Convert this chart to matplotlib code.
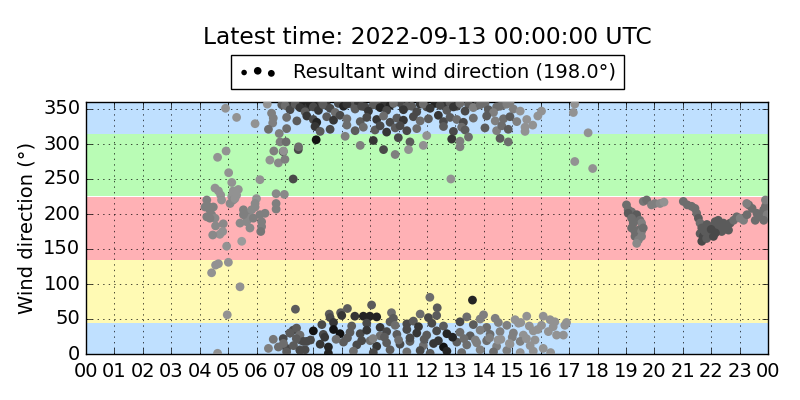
import numpy as np
import matplotlib
matplotlib.use('Agg')
import matplotlib.pyplot as plt

# Sector bands (lower, upper, colour)
band_low = [0, 45, 135, 225, 315]
band_high = [45, 135, 225, 315, 360]
band_colors = ['#bfe0ff', '#fffab4', '#ffb1b5', '#b9fcb5', '#bfe0ff']

title_text = 'Latest time: 2022-09-13 00:00:00 UTC'
legend_text = u'Resultant wind direction (198.0\u00b0)'

# Early morning, light winds, scattered directions
dawn_h = [4.91, 5.30, 5.95, 6.38, 4.93, 4.63, 5.02, 5.13, 6.12, 4.54, 4.66, 4.74, 4.77, 5.18, 5.36, 5.30,
          5.13, 5.18, 5.07, 5.24, 6.00, 5.95, 6.69, 6.98, 6.69, 6.69, 4.25, 4.19, 4.30, 4.36, 4.25, 4.42,
          4.48, 4.54, 4.36, 4.56, 4.83, 4.81, 4.71, 4.46, 4.95, 5.48, 5.54, 5.59, 5.71, 5.83, 5.95, 5.77,
          5.65, 5.42, 5.54, 5.89, 6.12, 6.30, 6.18, 6.18, 6.15, 5.77, 4.66, 4.56, 4.42, 5.01, 5.42, 4.97,
          7.37, 4.63, 6.53, 6.59, 6.57, 6.42, 6.80, 6.83, 7.04, 6.61, 6.94, 6.47, 6.77, 7.00, 7.29, 7.47,
          6.59, 6.94, 7.18, 7.29, 7.41, 7.53, 6.77, 6.42, 7.06, 7.53, 7.71, 7.77]
dawn_dir = [351, 338, 329, 357, 290, 281, 259, 245, 249, 237, 233, 227, 220, 233, 235, 227,
            225, 220, 215, 222, 222, 215, 229, 228, 215, 207, 220, 210, 211, 206, 196, 199,
            210, 194, 194, 183, 186, 175, 171, 170, 154, 161, 206, 199, 201, 206, 210, 194,
            189, 187, 199, 194, 199, 201, 189, 182, 175, 180, 129, 127, 116, 131, 96, 56,
            64, 1, 344, 337, 330, 321, 315, 303, 303, 290, 289, 277, 273, 278, 250, 292,
            21, 22, 30, 34, 37, 20, 10, 8, 8, 6, 6, 18]
dawn_spd = [2, 2, 2, 2, 2, 2, 2, 2, 2, 2, 2, 2, 2, 2, 2, 2,
            2, 2.5, 2.5, 2, 2, 2.5, 2.5, 2.5, 3, 3, 3, 3, 3, 3, 3, 3,
            3, 2.5, 3, 2.5, 2.5, 2, 2, 2.5, 2, 1.5, 3, 3, 3, 2.5, 2.5, 2.5,
            2.5, 2.5, 3, 3, 3, 3, 3, 3, 3.5, 2.5, 2, 2, 2, 2, 2, 2,
            5, 2, 3, 3, 3, 4, 3, 3, 4, 3, 6, 2, 2.5, 3, 6, 6,
            3.5, 6, 6, 6, 5, 5, 4, 3, 6, 5, 6, 6]

# Daytime, northerly winds (300-360 deg)
north_h = [6.89, 7.12, 7.48, 7.65, 7.83, 8.12, 8.30, 8.47, 8.88, 9.06, 9.35, 9.59, 9.82, 10.11, 10.47,
           10.70, 11.05, 11.29, 11.76, 11.99, 12.28, 12.58, 12.81, 13.05, 13.46, 13.75, 14.04, 14.45,
           14.69, 14.92,
           7.01, 7.18, 7.36, 7.53, 7.71, 7.89, 8.00, 8.18, 8.35, 8.59, 8.77, 9.18, 9.47, 9.70, 9.94,
           10.23, 10.35, 10.58, 10.82, 11.17, 11.46, 11.64, 11.87, 12.11, 12.46, 12.70, 12.93, 13.16,
           13.34, 13.63, 13.87, 14.16, 14.34, 14.57, 14.81, 15.04, 15.28,
           7.06, 7.42, 7.77, 8.00, 8.12, 8.47, 8.71, 8.94, 9.18, 9.65, 9.88, 10.23, 10.47, 10.70, 10.94,
           11.17, 11.52, 11.76, 12.05, 12.40, 12.58, 12.81, 13.05, 13.28, 13.63, 14.10, 14.40, 14.69,
           14.92, 15.16, 15.51,
           7.06, 8.06, 8.24, 8.59, 9.18, 9.47, 9.76, 10.17, 10.35, 10.58, 10.88, 11.05, 11.29, 11.64,
           12.58, 12.93, 13.22, 13.34, 14.04, 14.45, 14.63, 14.86, 15.45,
           8.10, 9.12, 10.11, 10.99, 11.40, 11.99, 12.87, 13.16, 13.46, 14.57, 14.86,
           6.95, 7.48, 9.65, 10.47, 10.88, 11.35, 11.87, 13.16, 12.84, 16.03,
           17.15, 17.20, 17.67, 17.20, 17.83, 15.72, 15.45, 15.90]
north_dir = [356, 359, 354, 358, 353, 357, 359, 355, 358, 354, 357, 359, 353, 356, 358,
             355, 359, 354, 357, 353, 358, 356, 359, 354, 357, 355, 358, 353,
             356, 359,
             355, 349, 357, 352, 346, 358, 353, 348, 356, 351, 345, 357, 350, 354, 347,
             356, 352, 348, 358, 349, 354, 346, 357, 351, 355, 348, 353, 358,
             347, 352, 356, 349, 345, 354, 357, 350, 347,
             338, 333, 340, 335, 331, 339, 334, 341, 336, 332, 338, 335, 340, 331, 337,
             334, 339, 333, 336, 341, 332, 338, 335, 331, 337, 340, 333, 336,
             339, 332, 335,
             322, 325, 318, 321, 327, 319, 324, 320, 326, 317, 323, 326, 319, 322,
             325, 318, 324, 320, 323, 319, 326, 321, 324,
             306, 311, 305, 309, 303, 312, 307, 304, 310, 308, 303,
             290, 296, 298, 292, 285, 292, 298, 296, 250, 347,
             345, 357, 316, 275, 265, 327, 318, 340]
north_spd = [5, 7, 6, 8, 7, 8, 6, 7, 6, 8, 5, 7, 6, 5, 7,
             8, 6, 5, 7, 6, 8, 7, 5, 6, 5, 6, 4, 4,
             3, 3,
             4, 6, 5, 7, 5, 8, 6, 7, 5, 6, 4, 7, 5, 6, 7,
             5, 8, 6, 4, 7, 5, 6, 4, 7, 6, 5, 7, 4,
             6, 3, 4, 5, 3, 4, 3, 3, 2,
             4, 5, 7, 6, 8, 5, 7, 6, 4, 5, 6, 7, 4, 6, 5,
             7, 6, 4, 5, 7, 6, 5, 4, 6, 4, 5, 3, 4,
             5, 3, 2,
             4, 7, 5, 6, 4, 5, 4, 5, 6, 7, 5, 6, 6, 4,
             5, 6, 4, 5, 5, 3, 4, 5, 2,
             9, 3, 7, 6, 5, 2, 7, 3, 4, 5, 4,
             2, 4, 3, 6, 3, 2, 2, 3, 2, 2,
             2, 2, 2, 2, 2, 2, 2, 2]

# Daytime, winds just east of north (0-80 deg)
east_h = [9.20, 10.05, 12.10, 12.36, 13.60, 8.96, 8.56, 10.75, 9.46, 9.76, 9.99, 10.23,
          8.59, 9.00, 10.82, 11.76, 12.05, 12.34, 13.40, 13.87, 13.99, 15.51, 14.40, 15.10,
          8.30, 8.71, 9.35, 9.88, 10.35, 10.70, 10.88, 11.29, 11.52, 11.70, 12.17, 12.58, 13.16,
          13.63, 14.10, 14.51, 14.81, 15.22,
          7.18, 7.53, 8.00, 8.35, 8.71, 8.94, 9.29, 9.65, 9.88, 10.35, 10.58, 10.94, 11.29, 11.64,
          11.99, 12.34, 12.70, 13.16, 13.52, 13.87, 14.22, 14.57, 15.04, 15.39, 15.74,
          6.95, 7.30, 7.65, 8.24, 8.53, 9.06, 9.53, 10.00, 10.23, 10.58, 11.05, 11.40, 11.87, 12.23,
          12.58, 13.05, 13.40, 13.75, 14.10, 14.45, 14.92, 15.28, 15.63,
          7.06, 7.53, 8.53, 9.41, 10.11, 10.70, 11.29, 11.76, 12.11, 12.70, 13.22, 13.87, 14.34,
          14.81, 15.28, 15.74,
          7.4, 7.9, 8.4, 8.8, 9.2, 9.7, 10.1, 10.5, 11.0, 11.4, 11.9, 12.4, 12.9, 13.3, 13.7, 14.2,
          14.6, 15.0, 15.5,
          16.09, 16.03, 16.33, 16.50, 16.44, 16.27, 16.56, 16.85, 16.91, 16.80, 16.09, 16.35,
          15.9, 15.6, 15.8, 14.9, 15.3, 14.5]
east_dir = [65, 70, 81, 66, 77, 59, 57, 59, 54, 54, 54, 53,
            52, 55, 51, 57, 52, 55, 53, 50, 56, 54, 51, 49,
            42, 45, 40, 44, 38, 46, 41, 43, 47, 39, 44, 40, 46,
            42, 38, 45, 41, 44,
            30, 27, 33, 28, 35, 29, 31, 29, 34, 26, 32, 28, 35, 30,
            27, 33, 29, 31, 26, 34, 28, 32, 30, 27, 33,
            15, 12, 18, 14, 10, 17, 13, 19, 11, 16, 14, 18, 12, 15,
            10, 17, 13, 16, 19, 11, 14, 18, 12,
            3, 5, 1, 4, 2, 6, 3, 5, 1, 4, 2, 6, 3,
            5, 2, 4,
            22, 20, 24, 21, 23, 19, 22, 24, 20, 23, 21, 19, 24, 22, 20, 23,
            21, 24, 22,
            54, 41, 49, 46, 39, 32, 27, 41, 45, 27, 8, 2,
            35, 40, 20, 15, 45, 20]
east_spd = [5, 5, 4, 5, 8, 5, 5, 4, 7, 8, 8, 8,
            6, 7, 5, 4, 6, 5, 4, 3, 3, 2, 3, 2,
            6, 7, 5, 6, 7, 5, 4, 6, 5, 7, 6, 5, 6,
            5, 4, 3, 3, 2,
            5, 4, 9, 6, 9, 9, 5, 6, 7, 4, 6, 5, 6, 7,
            5, 6, 8, 4, 5, 3, 4, 3, 3, 2, 2,
            4, 5, 6, 7, 8, 5, 6, 4, 7, 5, 6, 5, 4, 7,
            9, 5, 4, 3, 4, 3, 2, 3, 2,
            5, 6, 8, 4, 6, 5, 4, 6, 5, 8, 4, 3, 4,
            3, 2, 2,
            5, 6, 7, 4, 5, 6, 3, 5, 4, 6, 5, 7, 8, 4, 3, 3,
            2, 3, 2,
            2, 2, 2, 2, 2, 2, 2, 2, 2, 2, 2, 2,
            2, 2, 2, 2, 2, 2]

# Evening, southerly winds
south_h = [19.02, 19.08, 19.14, 19.20, 19.26, 19.32, 19.38, 19.49, 19.55, 19.26, 19.20, 19.32, 19.44,
           19.55, 19.61, 19.32, 19.44, 19.55, 19.38, 19.08, 19.20,
           19.61, 19.73, 19.90, 20.02, 20.20, 20.34,
           21.02, 21.16, 21.31, 21.43, 21.49, 21.55, 21.61, 21.67, 21.61, 21.72, 21.67, 21.84, 21.96,
           22.02, 22.14, 22.25, 22.31, 22.20, 22.43, 22.55, 22.67, 22.79, 22.90, 23.02, 23.14, 23.26,
           23.32, 23.44, 23.61, 23.73, 23.85, 23.91, 23.97, 23.85, 23.55, 22.08, 21.90, 21.78, 22.37,
           22.61, 23.91, 23.25, 21.85, 22.00, 22.45, 22.15]
south_dir = [213, 206, 201, 203, 196, 191, 199, 191, 187, 187, 180, 175, 177,
             175, 180, 168, 163, 168, 158, 201, 194,
             218, 220, 213, 215, 215, 217,
             218, 213, 211, 208, 201, 194, 187, 180, 172, 168, 161, 165, 172,
             182, 189, 191, 182, 177, 187, 182, 187, 191, 196, 194, 191, 199,
             213, 208, 201, 196, 206, 211, 199, 191, 191, 168, 177, 175, 175,
             177, 220, 215, 185, 178, 178, 173]
south_spd = [4, 4, 5, 4, 4, 4, 5, 4, 3, 4, 4, 4, 4,
             3, 4, 4, 3, 3, 2.5, 5, 4,
             3.5, 4, 3, 3, 2.5, 2,
             4, 4, 4, 4, 4, 5, 4, 5, 5, 6, 6, 5, 5,
             5, 5, 5, 5, 5, 5, 5, 5, 4, 4, 3, 3, 4,
             4, 4, 4, 4, 4, 4, 3, 4, 4, 6, 5, 5, 5,
             5, 3, 3, 5, 6, 5, 6]

hours = np.array(dawn_h + north_h + east_h + south_h)
direction = np.array(dawn_dir + north_dir + east_dir + south_dir)
speed = np.array(dawn_spd + north_spd + east_spd + south_spd)

plt.style.use('classic')
plt.rcParams['font.family'] = ['DejaVu Sans']
plt.rcParams['font.size'] = 14

fig = plt.figure(figsize=(8, 4), dpi=100, facecolor='white')
ax = fig.add_axes([0.1075, 0.115, 0.8525, 0.63])

# Coloured direction sectors
for lo, hi, col in zip(band_low, band_high, band_colors):
    ax.axhspan(lo, hi, color=col, lw=0, zorder=0)

sc = ax.scatter(hours, direction, c=speed, cmap='gray_r', vmin=-4, vmax=10,
                s=40, edgecolors='none', zorder=3, label=legend_text)

ax.set_xlim(0, 24)
ax.set_ylim(0, 360)
ax.set_xticks(np.arange(0, 25, 1))
ax.set_xticklabels(['%02d' % (h % 24) for h in range(25)])
ax.set_yticks(np.arange(0, 360, 50))
ax.tick_params(axis='x', pad=6)
ax.grid(True, zorder=1)
ax.set_axisbelow(False)
ax.set_ylabel(u'Wind direction (\u00b0)', fontsize=14)

leg = ax.legend(loc='lower center', bbox_to_anchor=(0.5, 1.05), borderaxespad=0,
                fontsize=14, scatterpoints=3, frameon=True)
for hd in leg.legend_handles:
    hd.set_array(None)
    hd.set_facecolor('black')
    hd.set_sizes([16, 30, 24])

fig.text(0.534, 0.89, title_text, ha='center', va='baseline', fontsize=16.8)

fig.savefig('out.png', dpi=100, facecolor='white')
